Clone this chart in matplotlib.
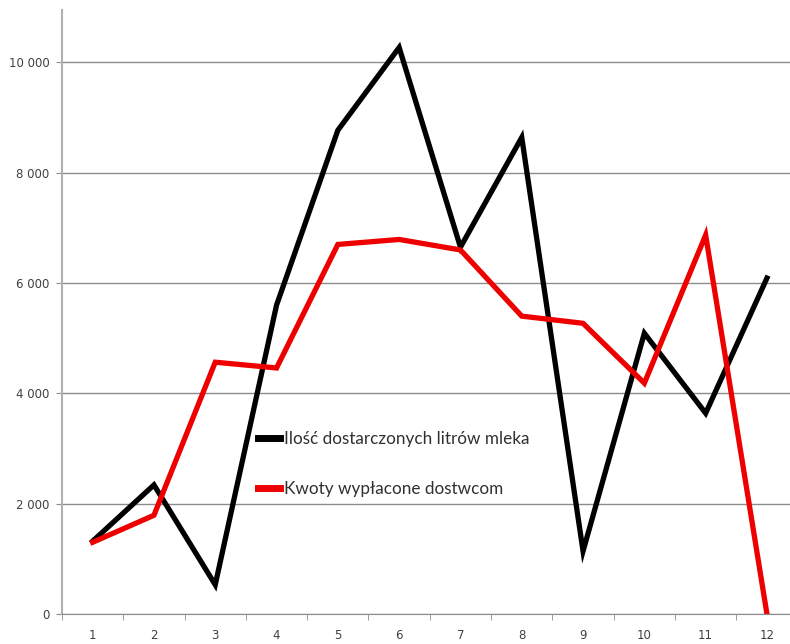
import matplotlib
matplotlib.use("Agg")
import matplotlib.pyplot as plt
from matplotlib.ticker import FuncFormatter

months = [1, 2, 3, 4, 5, 6, 7, 8, 9, 10, 11, 12]
litry = [1320, 2340, 530, 5600, 8770, 10270, 6650, 8640, 1140, 5090, 3640, 6090]
kwoty = [1300, 1790, 4565, 4460, 6700, 6790, 6600, 5400, 5270, 4185, 6870, 0]
labels = ["Ilość dostarczonych litrów mleka", "Kwoty wypłacone dostwcom"]
yticks = [0, 2000, 4000, 6000, 8000, 10000]

W, H = 790, 644
fig = plt.figure(figsize=(W / 100, H / 100), dpi=100)
left, right, bottom, top = 62, 62 + 12 * 61.3, 644 - 614, 644 - 10
ax = fig.add_axes([left / W, bottom / H, (right - left) / W, (top - bottom) / H])

x = list(range(len(months)))
ax.plot(x, litry, color="black", lw=3.8, label=labels[0], solid_joinstyle="miter")
ax.plot(x, kwoty, color="#ee0000", lw=3.8, label=labels[1], solid_joinstyle="miter")

ax.set_xlim(-0.5, len(months) - 0.5)
ax.set_ylim(0, 10950)
ax.set_yticks(yticks)
ax.yaxis.set_major_formatter(FuncFormatter(lambda v, p: f"{int(v):,}".replace(",", " ")))
ax.grid(axis="y", color="#8c8c8c", lw=1)
ax.set_axisbelow(True)

ax.set_xticks(x)
ax.set_xticklabels([str(m) for m in months])
ax.set_xticks([i - 0.5 for i in range(len(months) + 1)], minor=True)
ax.tick_params(axis="x", which="major", length=0, pad=11, labelsize=8.5, labelcolor="#404040")
ax.tick_params(axis="x", which="minor", length=4, color="#8c8c8c", direction="out")
ax.tick_params(axis="y", length=4, color="#8c8c8c", labelsize=8.5, labelcolor="#404040", pad=5)

for s in ["top", "right"]:
    ax.spines[s].set_visible(False)
ax.spines["left"].set_color("#b0b0b0")
ax.spines["left"].set_linewidth(1.5)
ax.spines["bottom"].set_color("#8c8c8c")

leg = ax.legend(loc="center left", bbox_to_anchor=(0.266, 0.248), frameon=False,
                borderaxespad=0, borderpad=0,
                handlelength=1.3, handletextpad=0.25, labelspacing=2.0,
                prop={"family": ["Lato", "DejaVu Sans"], "size": 12.3})
for t in leg.get_texts():
    t.set_color("#303030")
for h in leg.get_lines():
    h.set_linewidth(5)

fig.savefig("out.png", dpi=100)
